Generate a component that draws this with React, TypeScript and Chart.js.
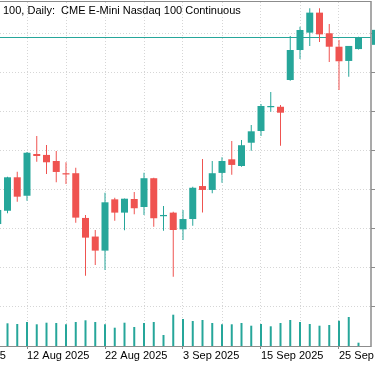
import React, { useEffect, useRef } from "react";
import { Chart, registerables } from "chart.js";

Chart.register(...registerables);

const title = "100, Daily:  CME E-Mini Nasdaq 100 Continuous";

const dates = [
  "31 Jul 2025", "1 Aug 2025", "4 Aug 2025", "5 Aug 2025", "6 Aug 2025", "7 Aug 2025", "8 Aug 2025",
  "11 Aug 2025", "12 Aug 2025", "13 Aug 2025", "14 Aug 2025", "15 Aug 2025", "18 Aug 2025", "19 Aug 2025",
  "20 Aug 2025", "21 Aug 2025", "22 Aug 2025", "25 Aug 2025", "26 Aug 2025", "27 Aug 2025", "28 Aug 2025",
  "29 Aug 2025", "1 Sep 2025", "2 Sep 2025", "3 Sep 2025", "4 Sep 2025", "5 Sep 2025", "8 Sep 2025",
  "9 Sep 2025", "10 Sep 2025", "11 Sep 2025", "12 Sep 2025", "15 Sep 2025", "16 Sep 2025", "17 Sep 2025",
  "18 Sep 2025", "19 Sep 2025", "22 Sep 2025", "23 Sep 2025", "24 Sep 2025", "25 Sep 2025", "26 Sep 2025",
  "29 Sep 2025",
];

const open = [
  null, null, null, null, null,
  23530, 23615, 23829, 23711, 23978, 23972, 23933, 23855, 23855, 23569, 23450, 23360, 23688, 23603,
  23690, 23639, 23823, 23580, 23603, 23496, 23562, 23773, 23748, 23857, 23944, 23901, 24050, 24125,
  24277, 24280, 24451, 24643, 24754, 24882, 24750, 24664, 24573, 24649,
];
const high = [
  null, null, null, null, null,
  23620, 23832, 23865, 23990, 24093, 24036, 23997, 23925, 23890, 23588, 23492, 23730, 23698, 23694,
  23735, 23858, 23826, 23645, 23609, 23620, 23769, 23946, 23933, 23957, 24061, 24067, 24163, 24298,
  24374, 24291, 24733, 24792, 24910, 24910, 24809, 24707, 24669, 24728,
];
const low = [
  null, null, null, null, null,
  23530, 23599, 23673, 23679, 23929, 23850, 23797, 23786, 23539, 23200, 23268, 23236, 23551, 23490,
  23592, 23588, 23513, 23487, 23193, 23428, 23519, 23603, 23727, 23794, 23846, 23897, 23999, 24093,
  24248, 24031, 24447, 24586, 24669, 24694, 24566, 24387, 24472, 24647,
];
const close = [
  null, null, null, null, null,
  23620, 23829, 23705, 23986, 23965, 23925, 23863, 23847, 23571, 23443, 23360, 23669, 23603, 23692,
  23631, 23823, 23567, 23588, 23492, 23562, 23762, 23748, 23855, 23933, 23908, 24034, 24123, 24285,
  24285, 24242, 24643, 24771, 24882, 24743, 24664, 24571, 24669, 24724,
];
// volume in thousands of contracts
const volume = [
  null, null, null, null, null, null,
  454, 440, 480, 434, 466, 460, 434, 480, 514, 480, 434, 366, 466, 380, 460, 480, 220, 626, 540,
  500, 520, 460, 434, 434, 460, 406, 440, 394, 460, 520, 480, 440, 406, 420, 506, 580, 66,
];

const priceTicks = [23000, 23250, 23500, 23750, 24000, 24250, 24500, 24750];

const GREEN = "#26a69a";
const RED = "#ef5350";
const GRID = "#d6d6d6";
const FRAME = "#8c8c8c";

const CANVAS_W = 495;
const CANVAS_H = 366;
const SHIFT = 60;

export default function App() {
  const ref = useRef<HTMLCanvasElement | null>(null);

  useEffect(() => {
    if (!ref.current) return;
    Chart.defaults.font.family = "'Liberation Sans', Arial, sans-serif";
    Chart.defaults.font.size = 11;

    const idx = dates.map((_, i) => i);
    const candleIdx = idx.filter((i) => open[i] != null);
    const up = (i: number) => (close[i] as number) >= (open[i] as number);
    const lastIdx = candleIdx[candleIdx.length - 1];
    const lastClose = close[lastIdx] as number;

    const bodies = candleIdx.map((i) => ({ x: i, y: [open[i], close[i]] }));
    const wicks = candleIdx.map((i) => ({ x: i, y: [low[i], high[i]] }));
    const candleColors = candleIdx.map((i) => (up(i) ? GREEN : RED));
    const vols = idx.filter((i) => volume[i] != null).map((i) => ({ x: i, y: volume[i] }));

    const gridDays = idx.filter((i) => i % 4 === 0);
    const isLabeled = (v: number) => v % 8 === 0;

    // candle spacing: 9.75px; first date sits 9px right of the chart area's left edge
    const xMin = -9 / 9.75;
    const xMax = (CANVAS_W - 64 - 9) / 9.75;

    const overlay = {
      id: "overlay",
      beforeDatasetsDraw(chart: any) {
        const { ctx, chartArea: a, scales } = chart;
        const y = Math.round(scales.y.getPixelForValue(lastClose)) + 0.5;
        ctx.save();
        ctx.strokeStyle = GREEN;
        ctx.lineWidth = 1;
        ctx.beginPath();
        ctx.moveTo(a.left, y);
        ctx.lineTo(a.right, y);
        ctx.stroke();
        ctx.restore();
      },
      afterDraw(chart: any) {
        const { ctx, chartArea: a, scales } = chart;
        ctx.save();
        ctx.strokeStyle = FRAME;
        ctx.lineWidth = 1;
        ctx.beginPath();
        ctx.moveTo(a.left, a.top - 0.5);
        ctx.lineTo(a.right, a.top - 0.5);
        ctx.moveTo(a.left, a.bottom + 0.5);
        ctx.lineTo(a.right, a.bottom + 0.5);
        ctx.stroke();
        ctx.lineWidth = 1.5;
        ctx.beginPath();
        ctx.moveTo(a.right, a.top - 1);
        ctx.lineTo(a.right, a.bottom + 1);
        ctx.stroke();
        // last price label on the price axis
        const yc = scales.y.getPixelForValue(lastClose);
        ctx.fillStyle = GREEN;
        ctx.fillRect(a.right + 1, yc - 7.5, 62, 15);
        ctx.fillStyle = "#ffffff";
        ctx.font = "11px 'Liberation Sans', Arial, sans-serif";
        ctx.textBaseline = "middle";
        ctx.fillText(lastClose.toFixed(2), a.right + 6, yc);
        // title
        ctx.fillStyle = "#000000";
        ctx.textBaseline = "alphabetic";
        ctx.fillText(title, a.left + SHIFT + 3, 14);
        ctx.restore();
      },
    };

    const chart = new Chart(ref.current, {
      type: "bar",
      data: {
        datasets: [
          {
            label: "body",
            data: bodies as any,
            backgroundColor: candleColors,
            grouped: false,
            barPercentage: 1,
            categoryPercentage: 1,
            maxBarThickness: 7,
            minBarLength: 1,
            inflateAmount: 0,
            yAxisID: "y",
          },
          {
            label: "wick",
            data: wicks as any,
            backgroundColor: candleColors,
            grouped: false,
            barPercentage: 1,
            categoryPercentage: 1,
            maxBarThickness: 1,
            inflateAmount: 0,
            yAxisID: "y",
          },
          {
            label: "volume",
            data: vols as any,
            backgroundColor: GREEN,
            grouped: false,
            barPercentage: 1,
            categoryPercentage: 1,
            maxBarThickness: 2,
            inflateAmount: 0,
            yAxisID: "yv",
          },
        ],
      },
      options: {
        animation: false,
        responsive: false,
        devicePixelRatio: 1,
        layout: { padding: { top: 2, left: 0, right: 0, bottom: 0 } },
        plugins: { legend: { display: false }, tooltip: { enabled: false } },
        events: [],
        scales: {
          x: {
            type: "linear",
            min: xMin,
            max: xMax,
            offset: false,
            afterBuildTicks: (s: any) => {
              s.ticks = gridDays.map((v) => ({ value: v }));
            },
            afterFit: (s: any) => {
              s.height = 20;
              s.paddingLeft = 0;
            },
            grid: {
              offset: false,
              color: GRID,
              lineWidth: 1,
              tickLength: 3,
              tickColor: (c: any) => (c.tick && isLabeled(c.tick.value) ? FRAME : "rgba(0,0,0,0)"),
            },
            border: { display: false, dash: [1, 2] },
            ticks: {
              autoSkip: false,
              maxRotation: 0,
              minRotation: 0,
              align: "start",
              padding: 0,
              color: "#000000",
              font: { size: 11 },
              callback: (v: any) => (isLabeled(Number(v)) ? dates[Number(v)] : ""),
            },
          } as any,
          y: {
            type: "linear",
            position: "right",
            min: 22750,
            max: 24950,
            afterBuildTicks: (s: any) => {
              s.ticks = priceTicks.map((v) => ({ value: v }));
            },
            afterFit: (s: any) => {
              s.width = 64;
              s.paddingTop = 0;
              s.paddingBottom = 0;
            },
            grid: { color: GRID, lineWidth: 1, tickLength: 4, tickColor: FRAME },
            border: { display: false, dash: [1, 2] },
            ticks: {
              color: "#000000",
              font: { size: 11 },
              padding: 3,
              callback: (v: any) => Number(v).toFixed(2),
            },
          } as any,
          yv: {
            type: "linear",
            display: false,
            min: 0,
            max: 6880,
          },
        },
      },
      plugins: [overlay],
    });

    return () => chart.destroy();
  }, []);

  return (
    <div
      style={{
        position: "fixed",
        left: 0,
        top: 0,
        width: 375,
        height: 366,
        overflow: "hidden",
        background: "#ffffff",
      }}
    >
      <canvas
        ref={ref}
        width={CANVAS_W}
        height={CANVAS_H}
        style={{ position: "absolute", left: -SHIFT, top: 0, width: CANVAS_W, height: CANVAS_H }}
      />
    </div>
  );
}
